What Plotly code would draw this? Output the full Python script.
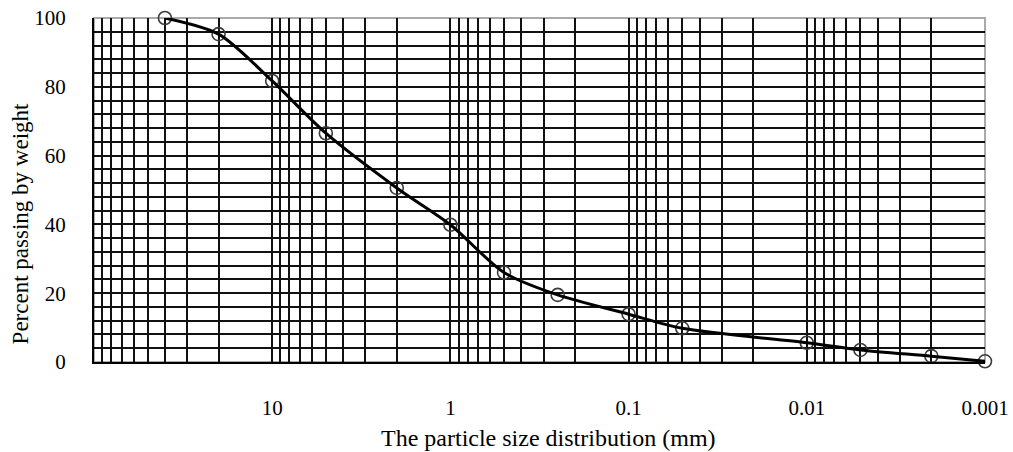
import plotly.graph_objects as go

# Data
particle_size_mm = [40, 20, 10, 5, 2, 1, 0.5, 0.25, 0.1, 0.05, 0.01, 0.005, 0.002, 0.001]
percent_passing = [100, 95.3, 81.7, 66.5, 50.6, 39.9, 26.0, 19.5, 13.9, 9.8, 5.6, 3.5, 1.7, 0.2]

decades = [100, 10, 1, 0.1, 0.01]
decade_labels = {10: "10", 1: "1", 0.1: "0.1", 0.01: "0.01", 0.001: "0.001"}

# x grid values: 1..9 x each decade, plus 0.001 and 100
x_tickvals = []
x_ticktext = []
for d in decades:
    for m in range(1, 10):
        v = round(m * d / 10, 6)
        x_tickvals.append(v)
        x_ticktext.append(decade_labels.get(v, ""))
x_tickvals.append(100)
x_ticktext.append("")

y_tickvals = list(range(0, 101, 4))
y_ticktext = [str(v) if v % 20 == 0 else "" for v in y_tickvals]

x_title = "The particle size distribution (mm)"
y_title = "Percent passing by weight"

font_family = "Liberation Serif, Times New Roman, serif"

fig = go.Figure()
fig.add_trace(go.Scatter(
    x=particle_size_mm, y=percent_passing, mode="markers",
    marker=dict(symbol="circle-open", size=13, color="#3a3a3a", line=dict(width=1.6)),
    cliponaxis=False, showlegend=False, hoverinfo="skip"))
fig.add_trace(go.Scatter(
    x=particle_size_mm, y=percent_passing, mode="lines",
    line=dict(color="black", width=3, shape="spline", smoothing=0.8),
    cliponaxis=False, showlegend=False))

fig.update_layout(
    width=1013, height=452,
    margin=dict(l=94, r=28, t=18, b=90),
    paper_bgcolor="white", plot_bgcolor="white",
    font=dict(family=font_family, color="black", size=21),
    shapes=[dict(type="rect", xref="paper", yref="paper", x0=0, x1=1, y0=0, y1=1,
                 line=dict(color="#aaaaaa", width=2), layer="below")],
    annotations=[
        dict(text=x_title, xref="paper", yref="paper", x=0.51, y=0, yshift=-76,
             showarrow=False, xanchor="center", yanchor="middle",
             font=dict(size=24, family=font_family, color="black")),
        dict(text=y_title, xref="paper", yref="paper", x=0, xshift=-74, y=0.40,
             textangle=-90, showarrow=False, xanchor="center", yanchor="middle",
             font=dict(size=23, family=font_family, color="black")),
    ],
)
fig.update_xaxes(
    type="log", range=[2, -3], automargin=False,
    tickmode="array", tickvals=x_tickvals, ticktext=x_ticktext,
    showgrid=True, gridcolor="#111111", gridwidth=1.6,
    showline=True, linecolor="black", linewidth=2,
    ticks="", ticklabelstandoff=26, zeroline=False,
    tickfont=dict(size=21, family=font_family),
)
fig.update_yaxes(
    range=[0, 100], automargin=False,
    tickmode="array", tickvals=y_tickvals, ticktext=y_ticktext,
    showgrid=True, gridcolor="#111111", gridwidth=1.6,
    showline=True, linecolor="black", linewidth=2,
    ticks="", ticklabelstandoff=22, zeroline=False,
    tickfont=dict(size=21, family=font_family),
)

# remove the browser's default 8px body margin so the figure fills the window
fig.write_html("out.html", config={"displayModeBar": False},
               post_script="document.body.style.margin='0px';")
